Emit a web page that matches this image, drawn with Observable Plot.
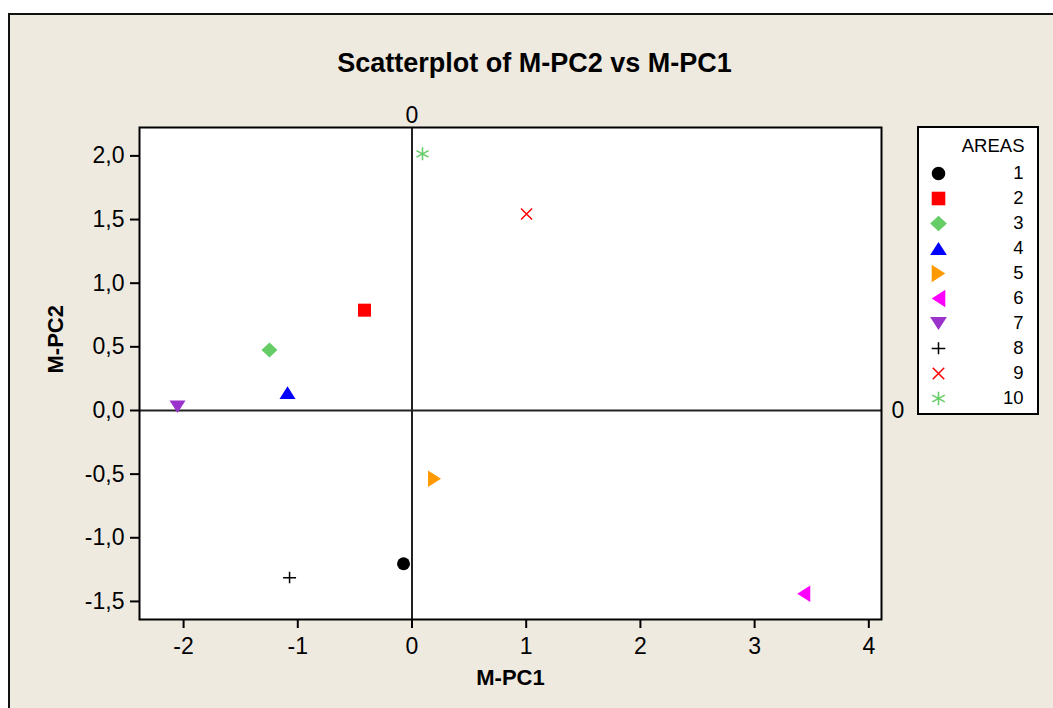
<!DOCTYPE html>
<html>
<head>
<meta charset="utf-8">
<script src="https://cdn.jsdelivr.net/npm/d3@7"></script>
<script src="https://cdn.jsdelivr.net/npm/@observablehq/plot@0.6"></script>
<style>
  html, body { margin: 0; padding: 0; background: #ffffff; width: 1053px; height: 708px; overflow: hidden; }
  #bg { position: absolute; left: 8px; top: 13px; width: 1100px; height: 800px; background: #EEEAE0;
        border-left: 2px solid #111; border-top: 2px solid #111; box-sizing: border-box; }
  #chart { position: absolute; left: 0; top: 0; }
  #legend { position: absolute; left: 917px; top: 126px; width: 122px; height: 289px; background: #ffffff;
            border: 2px solid #000; box-sizing: border-box; }
  #legend svg { display: block; }
</style>
</head>
<body>
<div id="bg"></div>
<div id="chart"></div>
<div id="legend"></div>
<script>
// ---- data ----
const areas = ["1", "2", "3", "4", "5", "6", "7", "8", "9", "10"];
const pc1 = [-0.074, -0.416, -1.248, -1.090, 0.197, 3.430, -2.053, -1.072, 1.003, 0.092];
const pc2 = [-1.204, 0.788, 0.476, 0.140, -0.536, -1.440, 0.029, -1.315, 1.544, 2.016];
const colors = ["#000000", "#FF0000", "#66CC66", "#0000FF", "#FF9900", "#FF00FF", "#9933CC", "#000000", "#FF0000", "#66CC66"];
const shapes = ["circle", "square", "diamond", "triangle", "rtriangle", "ltriangle", "dtriangle", "plus", "x", "asterisk"];
const xTicks = [-2, -1, 0, 1, 2, 3, 4];
const yTicks = [-1.5, -1.0, -0.5, 0.0, 0.5, 1.0, 1.5, 2.0];
const xTitle = "M-PC1";
const yTitle = "M-PC2";
const title = "Scatterplot of M-PC2 vs M-PC1";
const legendTitle = "AREAS";

// ---- symbols ----
const filledShapes = new Set(["circle", "square", "diamond", "triangle", "rtriangle", "ltriangle", "dtriangle"]);
function poly(ctx, pts, k) {
  ctx.moveTo(pts[0][0] * k, pts[0][1] * k);
  for (let i = 1; i < pts.length; i++) ctx.lineTo(pts[i][0] * k, pts[i][1] * k);
  ctx.closePath();
}
function seg(ctx, a, b, k) { ctx.moveTo(a[0] * k, a[1] * k); ctx.lineTo(b[0] * k, b[1] * k); }
const symbolDefs = {
  circle: (c, k) => { c.moveTo(6.5 * k, 0); c.arc(0, 0, 6.5 * k, 0, 2 * Math.PI); c.closePath(); },
  square: (c, k) => poly(c, [[-6.5, -6.5], [6.5, -6.5], [6.5, 6.5], [-6.5, 6.5]], k),
  diamond: (c, k) => poly(c, [[0, -7.5], [8, 0], [0, 7.5], [-8, 0]], k),
  triangle: (c, k) => poly(c, [[0, -6.3], [8, 6.3], [-8, 6.3]], k),
  dtriangle: (c, k) => poly(c, [[0, 6.3], [8, -6.3], [-8, -6.3]], k),
  rtriangle: (c, k) => poly(c, [[-6.5, -8.3], [6.5, 0], [-6.5, 8.3]], k),
  ltriangle: (c, k) => poly(c, [[6.5, -8.3], [-6.5, 0], [6.5, 8.3]], k),
  plus: (c, k) => { seg(c, [-6.5, 0], [6.5, 0], k); seg(c, [0, -6], [0, 5.5], k); },
  x: (c, k) => { seg(c, [-5.5, -5.5], [5.5, 5.5], k); seg(c, [-5.5, 5.5], [5.5, -5.5], k); },
  asterisk: (c, k) => {
    seg(c, [0, -6.5], [0, 6.5], k);
    seg(c, [-6, -3.3], [6, 3.3], k);
    seg(c, [-6, 3.3], [6, -3.3], k);
  }
};
function makeSymbol(name) {
  return { draw(ctx, size) { const r = Math.sqrt(size / Math.PI); symbolDefs[name](ctx, r / 6.5); } };
}
const symbolRange = shapes.map(makeSymbol);

const data = areas.map((a, i) => ({
  area: a, x: pc1[i], y: pc2[i],
  fill: filledShapes.has(shapes[i]) ? colors[i] : "none",
  stroke: filledShapes.has(shapes[i]) ? "none" : colors[i]
}));

const font = "'Liberation Sans', Arial, Helvetica, sans-serif";

const chart = Plot.plot({
  width: 1053,
  height: 708,
  marginLeft: 139,
  marginRight: 172,
  marginTop: 127,
  marginBottom: 89,
  style: { background: "transparent", fontFamily: font, fontSize: "23px", color: "#000", overflow: "visible" },
  x: { domain: [-2.386, 4.111], label: null },
  y: { domain: [-1.642, 2.223], label: null },
  symbol: { domain: areas, range: symbolRange },
  color: { type: "identity" },
  marks: [
    Plot.frame({ fill: "white", stroke: null }),
    Plot.ruleX([0], { stroke: "#222", strokeWidth: 2 }),
    Plot.ruleY([0], { stroke: "#222", strokeWidth: 2 }),
    Plot.frame({ stroke: "#000", strokeWidth: 2 }),
    Plot.axisX({ ticks: xTicks, tickSize: 9, tickPadding: 9, strokeWidth: 2, fontSize: 23, label: null, tickFormat: d => d < 0 ? "-" + Math.abs(d) : String(d) }),
    Plot.axisY({ ticks: yTicks, tickSize: 9, tickPadding: 6, strokeWidth: 2, fontSize: 23, label: null,
      tickFormat: d => (d < 0 ? "-" : "") + Math.abs(d).toFixed(1).replace(".", ",") }),
    Plot.text([0], { x: d => d, frameAnchor: "top", lineAnchor: "middle", dy: -12, text: () => "0", fontSize: 23 }),
    Plot.text([0], { y: d => d, frameAnchor: "right", lineAnchor: "middle", dx: 16.5, textAnchor: "middle", text: () => "0", fontSize: 23 }),
    Plot.text([title], { frameAnchor: "top", lineAnchor: "middle", dx: 24, dy: -64, fontSize: 27, fontWeight: "bold" }),
    Plot.text([xTitle], { frameAnchor: "bottom", lineAnchor: "middle", dy: 58, fontSize: 22, fontWeight: "bold" }),
    Plot.text([yTitle], { frameAnchor: "left", lineAnchor: "middle", dx: -84, rotate: -90, fontSize: 22, fontWeight: "bold" }),
    Plot.dot(data, { x: "x", y: "y", symbol: "area", r: 6.5, fill: "fill", stroke: "stroke", strokeWidth: 1.5 })
  ]
});
document.getElementById("chart").appendChild(chart);

// ---- legend ----
const legendData = areas.map((a, i) => ({
  area: a,
  fill: filledShapes.has(shapes[i]) ? colors[i] : "none",
  stroke: filledShapes.has(shapes[i]) ? "none" : colors[i]
}));
const legend = Plot.plot({
  width: 118,
  height: 285,
  marginLeft: 19,
  marginRight: 14,
  marginTop: 43.7,
  marginBottom: 13,
  style: { background: "transparent", fontFamily: font, fontSize: "18.5px", color: "#000", overflow: "visible" },
  x: { domain: [0, 1], axis: null },
  y: { type: "point", domain: areas, padding: 0, axis: null },
  symbol: { domain: areas, range: symbolRange },
  color: { type: "identity" },
  marks: [
    Plot.dot(legendData, { x: () => 0, y: "area", symbol: "area", r: 6.8, fill: "fill", stroke: "stroke", strokeWidth: 1.5 }),
    Plot.text(legendData, { x: () => 1, y: "area", text: "area", textAnchor: "end", lineAnchor: "middle", fontSize: 18.5 }),
    Plot.text([legendTitle], { frameAnchor: "top-right", lineAnchor: "middle", dx: 1, dy: -25.7, fontSize: 18.5 })
  ]
});
document.getElementById("legend").appendChild(legend);
</script>
</body>
</html>
